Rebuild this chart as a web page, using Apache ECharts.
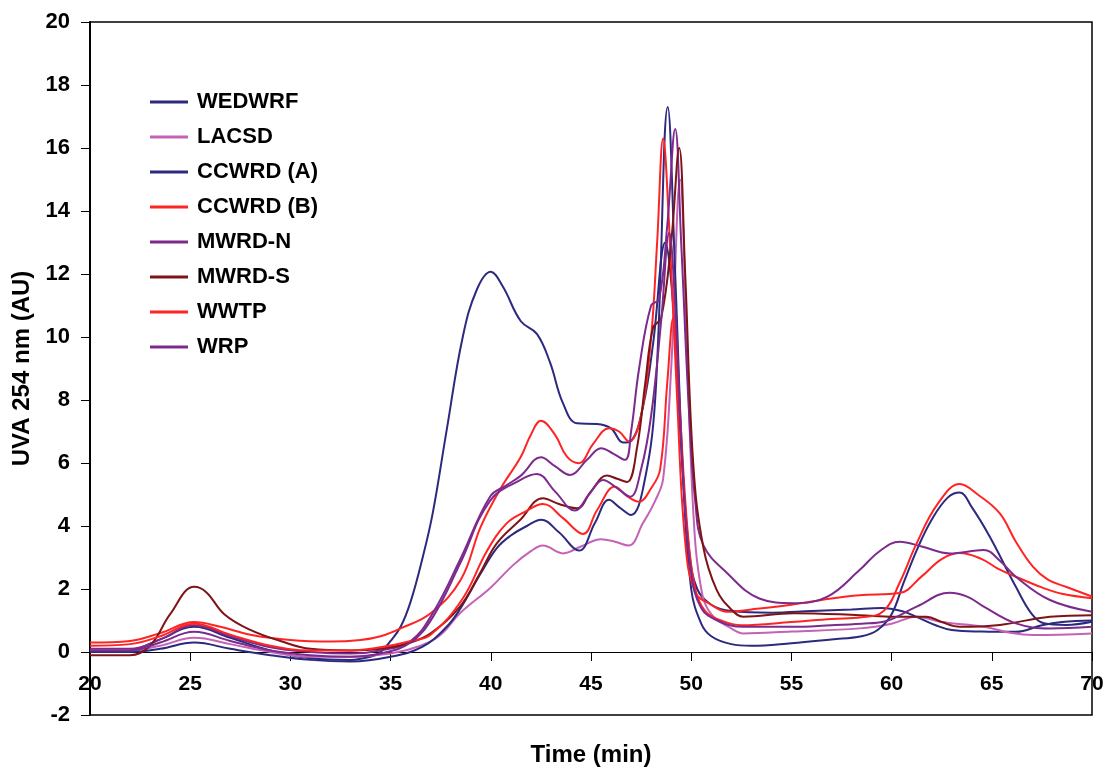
<!DOCTYPE html>
<html>
<head>
<meta charset="utf-8">
<script src="https://cdn.jsdelivr.net/npm/echarts@6/dist/echarts.min.js"></script>
<style>html,body{margin:0;padding:0;background:#fff;}#c{width:1106px;height:769px;}</style>
</head>
<body>
<div id="c"></div>
<script>
// Tick settings
const xTicks = [20, 25, 30, 35, 40, 45, 50, 55, 60, 65, 70];
const yTicks = [-2, 0, 2, 4, 6, 8, 10, 12, 14, 16, 18, 20];
const seriesNames = ['WEDWRF', 'LACSD', 'CCWRD (A)', 'CCWRD (B)', 'MWRD-N', 'MWRD-S', 'WWTP', 'WRP'];

// [time (min), UVA254 (AU)]
const wedwrf = [[20,0.0],[22,0.05],[23.5,0.4],[25.2,0.8],[27,0.45],[29,0.05],[31,-0.2],[33,-0.25],[34,-0.15],[34.5,0.0],[35,0.35],[35.5,0.8],[36,1.6],[36.6,3.0],[37.1,4.4],[37.8,7.05],[38.6,10.0],[39.3,11.5],[40.0,12.07],[40.6,11.6],[41.5,10.5],[42.3,10.1],[42.95,9.2],[43.6,7.9],[44.3,7.26],[45.3,7.24],[46.0,7.1],[46.6,6.65],[47.0,6.7],[47.6,7.8],[48.1,9.8],[48.7,13.0],[49.1,11.0],[49.5,6.5],[49.9,3.2],[50.3,2.0],[51,1.5],[52,1.3],[54,1.25],[56,1.3],[58,1.35],[59.5,1.4],[60.5,1.3],[61.3,1.1],[62.2,0.85],[63,0.7],[64.5,0.65],[66.2,0.64],[67.5,0.85],[68.5,0.95],[70,1.0]];
const lacsd = [[20,0.05],[22,0.05],[23.5,0.2],[25.2,0.45],[27,0.25],[29,0.0],[31,-0.15],[33,-0.15],[35,-0.05],[36.5,0.2],[37.5,0.55],[38.46,1.23],[40,2.05],[41.1,2.75],[42.0,3.2],[42.6,3.38],[43.6,3.13],[44.5,3.35],[45.5,3.58],[46.2,3.5],[46.87,3.38],[47.6,4.1],[48.2,4.8],[48.6,5.5],[49.0,9.0],[49.45,15.0],[49.75,10.5],[50.1,4.5],[50.5,2.0],[51,1.2],[52,0.75],[52.6,0.59],[55,0.65],[58.4,0.75],[60,0.9],[61.25,1.12],[62.5,0.95],[64.6,0.8],[66,0.6],[67.06,0.54],[70,0.59]];
const ccwrdA = [[20,0.0],[22,0.0],[23.5,0.1],[25.2,0.3],[27,0.1],[29,-0.1],[31,-0.25],[33,-0.3],[35,-0.15],[36.6,0.17],[37.8,0.8],[38.5,1.4],[39.5,2.5],[40.3,3.3],[41,3.7],[41.8,4.0],[42.5,4.2],[43.4,3.8],[44.4,3.22],[45.2,4.1],[45.9,4.83],[46.4,4.6],[47.0,4.35],[47.6,5.2],[48.2,8.0],[48.83,17.3],[49.2,12.0],[49.6,5.5],[50.0,2.0],[50.5,0.9],[51,0.5],[52,0.25],[53,0.2],[55,0.28],[57,0.4],[58.5,0.5],[59.3,0.7],[60,1.2],[60.6,2.2],[61.3,3.3],[62,4.2],[62.8,4.9],[63.4,5.06],[64,4.6],[64.9,3.66],[66.2,2.07],[67.0,1.2],[67.6,0.91],[68.7,0.86],[70,0.96]];
const ccwrdB = [[20,0.3],[22,0.35],[23.5,0.6],[25.2,0.95],[26.5,0.8],[28,0.55],[30,0.38],[32,0.33],[33.5,0.38],[34.5,0.5],[35.5,0.75],[37,1.23],[38.5,2.29],[39.5,3.98],[40.5,5.2],[41.5,6.2],[42.0,6.9],[42.5,7.34],[43.2,6.9],[43.8,6.2],[44.4,5.99],[45.1,6.6],[45.9,7.1],[46.4,7.0],[46.9,6.68],[47.5,7.5],[48.0,10.0],[48.3,13.0],[48.6,16.3],[48.9,13.5],[49.3,8.0],[49.7,3.5],[50.2,1.9],[51,1.5],[51.8,1.28],[53,1.35],[55,1.5],[57,1.7],[58.4,1.8],[60.4,1.87],[61.5,2.4],[62.5,2.95],[63.4,3.14],[64.5,2.95],[65.3,2.65],[66.2,2.39],[67.5,2.05],[68.5,1.85],[70,1.71]];
const mwrdN = [[20,0.1],[22,0.1],[23.5,0.4],[25.2,0.85],[27,0.5],[29,0.15],[31,0.0],[33,-0.05],[34.5,0.05],[36,0.35],[37.1,1.23],[38.46,2.92],[39.96,4.93],[40.8,5.3],[41.5,5.6],[42.5,6.18],[43.2,5.9],[43.95,5.62],[44.8,6.1],[45.5,6.47],[46.1,6.3],[46.7,6.1],[47.0,7.0],[47.4,9.0],[48.0,11.0],[48.4,11.2],[48.8,13.5],[49.2,16.6],[49.5,13.0],[49.9,7.5],[50.2,4.8],[50.6,3.4],[51.8,2.5],[53.4,1.7],[55.1,1.55],[56.8,1.76],[58.4,2.6],[59.4,3.2],[60.4,3.5],[61.5,3.35],[62.9,3.13],[64.6,3.24],[65.4,2.9],[66.2,2.39],[67.9,1.65],[70,1.28]];
const mwrdS = [[20,-0.1],[22,-0.1],[23,0.2],[24,1.2],[25.2,2.07],[25.8,1.9],[26.7,1.2],[28,0.7],[29.5,0.35],[31,0.1],[33,0.05],[34.5,0.1],[36,0.3],[37,0.59],[38.46,1.44],[39.46,2.5],[40.3,3.45],[41.46,4.19],[42.6,4.88],[43.4,4.7],[44.3,4.56],[45.0,5.1],[45.8,5.6],[46.3,5.5],[46.8,5.4],[47.3,6.5],[47.7,8.5],[48.1,10.3],[48.5,10.6],[49.0,13.0],[49.4,16.0],[49.7,12.0],[50.1,6.0],[50.6,3.34],[51.27,1.97],[52.0,1.35],[52.6,1.12],[55.1,1.23],[58.4,1.17],[60.1,1.12],[61.75,1.12],[62.5,0.95],[63.4,0.8],[65.4,0.86],[67.9,1.12],[70,1.17]];
const wwtp = [[20,0.2],[22,0.25],[23.5,0.5],[25.2,0.9],[27,0.55],[29,0.2],[31,0.05],[33,0.05],[34.5,0.15],[36,0.35],[37,0.55],[38.6,1.7],[39.8,3.2],[40.8,4.09],[41.7,4.45],[42.6,4.7],[43.6,4.25],[44.6,3.75],[45.3,4.5],[46.2,5.25],[46.8,4.95],[47.4,4.77],[48.0,5.2],[48.45,5.8],[48.8,8.5],[49.1,10.6],[49.4,8.0],[49.8,4.0],[50.2,2.0],[50.7,1.3],[51.5,1.0],[52.5,0.85],[55,0.95],[57,1.05],[58.5,1.1],[59.6,1.3],[60.4,2.2],[61.25,3.45],[62.3,4.7],[63.4,5.33],[64.3,5.0],[65.4,4.4],[66.2,3.5],[67.06,2.7],[67.8,2.3],[68.7,2.07],[70,1.76]];
const wrp = [[20,0.05],[22,0.05],[23.5,0.3],[25.2,0.64],[27,0.35],[29,0.05],[31,-0.1],[33,-0.15],[34.5,-0.05],[36,0.3],[37.1,1.1],[38.46,2.8],[39.96,4.8],[41.46,5.46],[42.3,5.65],[43.2,5.1],[44.2,4.49],[44.9,5.0],[45.6,5.46],[46.3,5.2],[46.95,4.93],[47.5,5.8],[48.0,7.5],[48.5,10.5],[48.9,13.3],[49.2,11.0],[49.6,5.5],[50.0,2.5],[50.5,1.4],[51.3,1.0],[52.6,0.8],[55,0.8],[57,0.85],[58.5,0.9],[59.6,0.96],[61.25,1.44],[62.9,1.88],[63.8,1.75],[64.6,1.44],[66.2,0.91],[67.9,0.75],[70,0.8]];

const seriesData = [wedwrf, lacsd, ccwrdA, ccwrdB, mwrdN, mwrdS, wwtp, wrp];
const colors = ['#2b2a7e', '#c462b6', '#2b2a7e', '#ff2424', '#7c2a8c', '#7e1416', '#ff2424', '#7c2a8c'];

const chart = echarts.init(document.getElementById('c'), null, {renderer: 'canvas'});
const font = '"Liberation Sans", Arial, sans-serif';

chart.setOption({
  animation: false,
  backgroundColor: '#fff',
  grid: [
    {left: 90, right: 14, top: 22, bottom: 54, show: true, borderColor: '#000', borderWidth: 1.5,
     backgroundColor: 'transparent', outerBoundsMode: 'none', containLabel: false},
    // helper grid whose bottom edge sits at y = 0, used only to place the x tick labels and title
    {left: 90, right: 14, top: 22, bottom: 117, show: false, outerBoundsMode: 'none', containLabel: false}
  ],
  legend: {
    orient: 'vertical', left: 150, top: 90, padding: 0,
    itemWidth: 38, itemHeight: 3, itemGap: 11,
    icon: 'rect',
    data: seriesNames,
    textStyle: {fontFamily: font, fontWeight: 'bold', fontSize: 22, color: '#000', padding: [0,0,0,4], lineHeight: 24}
  },
  xAxis: [
    {
      gridIndex: 0, type: 'value', min: 20, max: 70, interval: 5,
      axisLine: {onZero: true, lineStyle: {color: '#000', width: 1}},
      axisTick: {show: true, inside: false, length: 9, lineStyle: {color: '#000', width: 1}},
      axisLabel: {show: false},
      splitLine: {show: false}
    },
    {
      gridIndex: 1, type: 'value', min: 20, max: 70, interval: 5,
      name: 'Time (min)', nameLocation: 'middle', nameGap: 91,
      nameTextStyle: {fontFamily: font, fontWeight: 'bold', fontSize: 24, color: '#000'},
      axisLine: {show: false}, axisTick: {show: false},
      axisLabel: {margin: 22, fontFamily: font, fontWeight: 'bold', fontSize: 21, color: '#000',
        formatter: v => xTicks.includes(v) ? String(v) : ''},
      splitLine: {show: false}
    }
  ],
  yAxis: [
    {
      gridIndex: 0, type: 'value', min: -2, max: 20, interval: 2,
      name: 'UVA 254 nm (AU)', nameLocation: 'middle', nameGap: 50,
      nameTextStyle: {fontFamily: font, fontWeight: 'bold', fontSize: 24, color: '#000'},
      axisLine: {show: true, onZero: false, lineStyle: {color: '#000', width: 2}},
      axisTick: {show: true, length: 9, lineStyle: {color: '#000', width: 1}},
      axisLabel: {margin: 20, fontFamily: font, fontWeight: 'bold', fontSize: 22, color: '#000',
        formatter: v => yTicks.includes(v) ? String(v) : ''},
      splitLine: {show: false}
    },
    {gridIndex: 1, type: 'value', min: 0, max: 20, show: false}
  ],
  series: seriesNames.map((n, i) => ({
    name: n, type: 'line', data: seriesData[i], xAxisIndex: 0, yAxisIndex: 0,
    showSymbol: false, symbol: 'none',
    smooth: 0.4,
    lineStyle: {color: colors[i], width: 2},
    itemStyle: {color: colors[i]},
    z: 2
  }))
});
</script>
</body>
</html>
